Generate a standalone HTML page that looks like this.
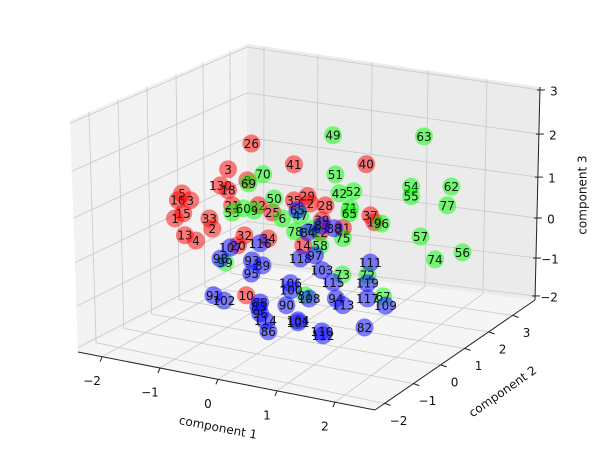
<!DOCTYPE html>
<html><head><meta charset="utf-8"><style>
html,body{margin:0;padding:0;background:#fff;}
svg{display:block;font-family:"DejaVu Sans","Liberation Sans",sans-serif;}
</style></head><body>
<svg id="chart" width="600" height="450" viewBox="0 0 600 450" xmlns="http://www.w3.org/2000/svg">
<g id="panes"></g>
<g id="grid"></g>
<g id="axes"></g>
<g id="points"></g>
</svg>
<script>
// component 1 (x), component 3 (z) values; component 2 assumed 0
const redLabels=["26","3","41","40","8","130","18","5","16","3","15","1","21","22","25","35","29","2","28","33","2","13","4","32","20","34","37","19","39","31","12","14","10"];
const redX=[-0.58,-0.98,0.15,1.39,-0.65,-1.11,-0.98,-1.77,-1.84,-1.63,-1.75,-1.89,-0.91,-0.46,-0.22,0.15,0.38,0.43,0.69,-1.30,-1.25,-1.72,-1.53,-0.70,-0.81,-0.29,1.46,1.53,0.63,0.99,0.60,0.31,-0.67];
const redZ=[2.28,1.52,1.97,2.33,1.34,1.08,1.0,0.69,0.50,0.56,0.20,0.03,0.64,0.77,0.66,1.07,1.24,1.07,1.10,0.20,-0.04,-0.34,-0.42,-0.05,-0.33,-0.01,1.07,0.92,0.71,0.62,0.40,-0.01,-1.54];
const greenLabels=["49","63","70","51","52","42","54","55","62","77","71","65","96","57","74","56","50","9","6","47","53","60","69","78","76","75","73","72","67","81","58","99"];
const greenX=[0.82,2.38,-0.38,0.86,1.17,0.93,2.16,2.16,2.85,2.78,1.11,1.10,1.65,2.32,2.57,3.04,-0.19,-0.53,-0.05,0.26,-0.91,-0.72,-0.63,0.17,0.48,0.99,0.98,1.41,1.68,0.34,0.60,-1.03];
const greenZ=[2.89,3.31,1.57,1.92,1.59,1.47,1.99,1.75,2.19,1.70,1.15,1.02,0.92,0.79,0.29,0.60,1.02,0.62,0.56,0.72,0.46,0.62,1.27,0.30,0.46,0.37,-0.55,-0.44,-0.89,-1.25,0.07,-0.82];
const blueLabels=["65","84","87","88","107","116","98","93","89","95","118","103","111","115","119","106","100","91","102","108","90","94","113","117","109","88","83","96","114","86","104","101","112","110","82","97"];
const blueX=[0.21,0.39,0.63,0.84,-0.94,-0.43,-1.11,-0.57,-0.39,-0.58,0.26,0.63,1.46,0.82,1.41,0.09,0.10,-1.23,-1.05,0.41,0.02,0.87,0.99,1.41,1.72,-0.43,-0.46,-0.43,-0.34,-0.29,0.22,0.22,0.65,0.63,1.36,0.51];
const blueZ=[0.84,0.34,0.58,0.57,-0.42,-0.17,-0.75,-0.64,-0.71,-0.97,-0.35,-0.54,-0.11,-0.79,-0.64,-1.02,-1.19,-1.70,-1.78,-1.31,-1.59,-1.18,-1.31,-1.02,-1.11,-1.65,-1.76,-1.92,-2.08,-2.33,-1.91,-1.96,-2.16,-2.07,-1.76,-0.20];
const xTicks=["\u22122","\u22121","0","1","2"];
const yTicks=["\u22122","\u22121","0","1","2","3"];
const zTicks=["3","2","1","0","\u22121","\u22122"];

const NS="http://www.w3.org/2000/svg";
function mk(tag,attrs,parent){const e=document.createElementNS(NS,tag);for(const k in attrs)e.setAttribute(k,attrs[k]);parent.appendChild(e);return e;}
function lerp(a,b,t){return [a[0]+(b[0]-a[0])*t,a[1]+(b[1]-a[1])*t];}
function proj(x,y,z){return [218+(y+2.4)*28+x*58.3, 383-(y+2.4)*19+x*11.5-(z+2.4)*40];}

const Lt=[70,120],Lb=[78,352],Bt=[247,44],Bb=[247,265],Rt=[540,87],Rb=[535,300],F=[375,410];
const panes=document.getElementById('panes');
let p=mk('polygon',{points:[Lt,Bt,Bb,Lb].join(' '),fill:'#f2f2f2'},panes);

p=mk('polygon',{points:[Bt,Rt,Rb,Bb].join(' '),fill:'#ebebeb'},panes);

p=mk('polygon',{points:[Lb,Bb,Rb,F].join(' '),fill:'#f5f5f5'},panes);


const grid=document.getElementById('grid');
const gs={stroke:'#c8c8c8','stroke-width':0.8,fill:'none'};
function gl(a,b){const l=mk('line',Object.assign({x1:a[0],y1:a[1],x2:b[0],y2:b[1]},gs),grid);}
const yFracL=[0.107,0.271,0.435,0.599,0.751,0.904];
const yFracF=[0.06,0.24,0.41,0.56,0.71,0.86];
const xFracB=[0.058,0.242,0.427,0.618,0.819];
const xFracF=[0.081,0.276,0.471,0.670,0.865];
const zFrac=[0.014,0.221,0.423,0.615,0.803,0.981];
yFracL.forEach((t,i)=>{gl(lerp(Lt,Bt,t),lerp(Lb,Bb,t));gl(lerp(Lb,Bb,t),lerp(F,Rb,yFracF[i]));});
xFracB.forEach((t,i)=>{gl(lerp(Bt,Rt,t),lerp(Bb,Rb,t));gl(lerp(Bb,Rb,t),lerp(Lb,F,xFracF[i]));});
zFrac.forEach(t=>{const a=lerp(Lt,Lb,t),b=lerp(Bt,Bb,t),c=lerp(Rt,Rb,t);gl(a,b);gl(b,c);});

const axes=document.getElementById('axes');
function al(a,b,name){const l=mk('line',{x1:a[0],y1:a[1],x2:b[0],y2:b[1],stroke:'#222','stroke-width':1},axes);}
al(Lb,F,'x-axis-line');al(F,Rb,'y-axis-line');al(Rb,Rt,'z-axis-line');
function txt(s,x,y,name,extra){const t=mk('text',Object.assign({x:x,y:y,'font-size':12,'text-anchor':'middle','dominant-baseline':'middle',fill:'#111'},extra||{}),axes);t.textContent=s;return t;}
xTicks.forEach((s,i)=>{const q=lerp(Lb,F,xFracF[i]);al(q,[q[0]-2,q[1]+5],'x-tick');txt(s,q[0]-10,q[1]+25,'x-tick-label');});
yTicks.forEach((s,i)=>{const q=lerp(F,Rb,yFracF[i]);al(q,[q[0]+6,q[1]+2],'y-tick');txt(s,q[0]+14,q[1]+18,'y-tick-label');});
zTicks.forEach((s,i)=>{const q=lerp(Rt,Rb,zFrac[i]);al([q[0]-3,q[1]],[q[0]+5,q[1]],'z-tick');txt(s,q[0]+14,q[1]+2,'z-tick-label');});
txt('component 1',218,428,'x-axis-title',{transform:'rotate(11 218 428)'});
txt('component 2',503,392,'y-axis-title',{transform:'rotate(-35 503 392)'});
txt('component 3',583,195,'z-axis-title',{transform:'rotate(-90 583 195)'});

const pts=document.getElementById('points');
function series(X,Z,L,color,name){
  X.forEach((x,i)=>{const q=proj(x,0,Z[i]);
    const g=mk('g',{},pts);
    
    
    mk('circle',{cx:q[0],cy:q[1],r:9,fill:color,'fill-opacity':0.5},g);
    const t=mk('text',{x:q[0],y:q[1]+1,'font-size':12,'text-anchor':'middle','dominant-baseline':'middle',fill:'#111'},g);
    t.textContent=L[i];
  });
}
series(redX,redZ,redLabels,'#ff0000','red');
series(greenX,greenZ,greenLabels,'#00ff00','green');
series(blueX,blueZ,blueLabels,'#0000ff','blue');
</script>
</body></html>
